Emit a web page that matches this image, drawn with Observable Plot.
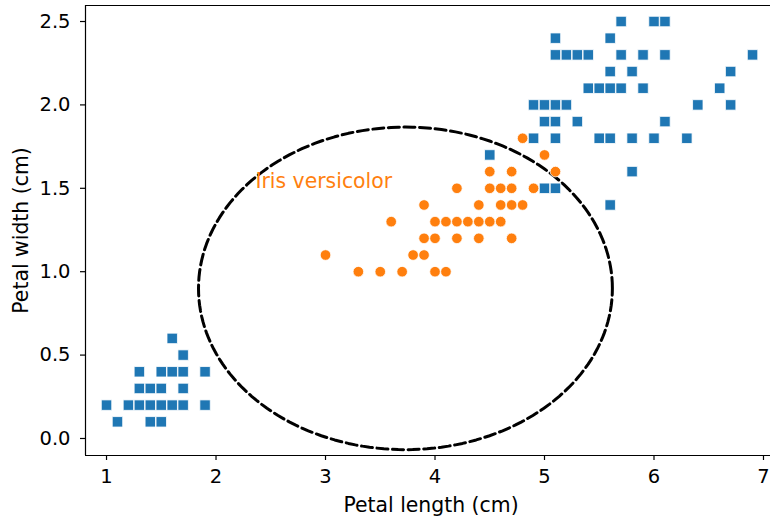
<!DOCTYPE html>
<html>
<head>
<meta charset="utf-8">
<script src="https://cdn.jsdelivr.net/npm/d3@7"></script>
<script src="https://cdn.jsdelivr.net/npm/@observablehq/plot@0.6"></script>
<style>
  html, body { margin: 0; padding: 0; background: white; }
</style>
</head>
<body>
<div id="chart"></div>
<script>
// Other species (setosa + virginica) — blue squares
const otherLength = [
  1.6, 1.7,
  1.3, 1.5, 1.6, 1.7, 1.9,
  1.3, 1.4, 1.5, 1.7,
  1.0, 1.2, 1.3, 1.4, 1.5, 1.6, 1.7, 1.9,
  1.1, 1.4, 1.5,
  5.7, 6.0, 6.1,
  5.1, 5.6,
  5.1, 5.2, 5.3, 5.4, 5.7, 5.9, 6.1, 6.9,
  5.6, 5.8, 6.7,
  5.4, 5.5, 5.6, 5.7, 5.9, 6.6,
  4.9, 5.0, 5.1, 5.2, 6.4, 6.7,
  5.0, 5.1, 5.3, 6.1,
  4.9, 5.1, 5.5, 5.6, 5.8, 6.0, 6.3,
  4.5,
  5.8,
  5.0, 5.1,
  5.6
];
const otherWidth = [
  0.6, 0.5,
  0.4, 0.4, 0.4, 0.4, 0.4,
  0.3, 0.3, 0.3, 0.3,
  0.2, 0.2, 0.2, 0.2, 0.2, 0.2, 0.2, 0.2,
  0.1, 0.1, 0.1,
  2.5, 2.5, 2.5,
  2.4, 2.4,
  2.3, 2.3, 2.3, 2.3, 2.3, 2.3, 2.3, 2.3,
  2.2, 2.2, 2.2,
  2.1, 2.1, 2.1, 2.1, 2.1, 2.1,
  2.0, 2.0, 2.0, 2.0, 2.0, 2.0,
  1.9, 1.9, 1.9, 1.9,
  1.8, 1.8, 1.8, 1.8, 1.8, 1.8, 1.8,
  1.7,
  1.6,
  1.5, 1.5,
  1.4
];
// Iris versicolor — orange circles
const versicolorLength = [
  4.8,
  5.0,
  4.5, 4.7, 5.1,
  4.2, 4.5, 4.6, 4.7, 4.9,
  3.9, 4.4, 4.6, 4.7, 4.8,
  3.6, 4.0, 4.1, 4.2, 4.3, 4.4, 4.5, 4.6,
  3.9, 4.0, 4.2, 4.4, 4.7,
  3.0, 3.8, 3.9,
  3.3, 3.5, 3.7, 4.0, 4.1
];
const versicolorWidth = [
  1.8,
  1.7,
  1.6, 1.6, 1.6,
  1.5, 1.5, 1.5, 1.5, 1.5,
  1.4, 1.4, 1.4, 1.4, 1.4,
  1.3, 1.3, 1.3, 1.3, 1.3, 1.3, 1.3, 1.3,
  1.2, 1.2, 1.2, 1.2, 1.2,
  1.1, 1.1, 1.1,
  1.0, 1.0, 1.0, 1.0, 1.0
];

// Ellipse (center and radii in data units)
const ellipseCenter = [3.73, 0.90];
const ellipseRadii = [1.89, 0.967];

// Annotation
const annotationText = "Iris versicolor";
const annotationX = 2.36;
const annotationY = 1.5;

// Axes
const xTicks = [1, 2, 3, 4, 5, 6, 7];
const yTicks = [0.0, 0.5, 1.0, 1.5, 2.0, 2.5];
const xDomain = [0.808, 7.064];
const yDomain = [-0.102, 2.596];
const xLabel = "Petal length (cm)";
const yLabel = "Petal width (cm)";

const others = otherLength.map((v, i) => ({length: v, width: otherWidth[i]}));
const versicolor = versicolorLength.map((v, i) => ({length: v, width: versicolorWidth[i]}));
const ellipse = d3.range(0, 361, 2).map(a => {
  const t = a * Math.PI / 180;
  return {x: ellipseCenter[0] + ellipseRadii[0] * Math.cos(t), y: ellipseCenter[1] + ellipseRadii[1] * Math.sin(t)};
});

const chart = Plot.plot({
  width: 770,
  height: 520,
  marginLeft: 85,
  marginRight: 0,
  marginTop: 5,
  marginBottom: 65,
  style: {fontFamily: "DejaVu Sans", background: "white", color: "black"},
  x: {domain: xDomain},
  y: {domain: yDomain},
  marks: [
    Plot.axisX({ticks: xTicks, tickFormat: d3.format("d"), tickSize: 5, tickPadding: 9, fontSize: 19.5, label: null, strokeWidth: 1.2}),
    Plot.axisY({ticks: yTicks, tickFormat: d3.format(".1f"), tickSize: 5, tickPadding: 10, fontSize: 19.5, label: null, strokeWidth: 1.2}),
    Plot.ruleX([xDomain[0]], {stroke: "black", strokeWidth: 1.2}),
    Plot.ruleY([yDomain[0]], {stroke: "black", strokeWidth: 1.2}),
    Plot.ruleY([yDomain[1]], {stroke: "black", strokeWidth: 1.2}),
    Plot.line(ellipse, {x: "x", y: "y", stroke: "black", strokeWidth: 3, strokeDasharray: "11 4.6"}),
    Plot.dot(others, {x: "length", y: "width", symbol: "square", r: 5.9, fill: "#1f77b4", stroke: "white", strokeWidth: 0.8}),
    Plot.dot(versicolor, {x: "length", y: "width", symbol: "circle", r: 5.3, fill: "#ff7f0e", stroke: "white", strokeWidth: 0.8}),
    Plot.text([annotationText], {x: () => annotationX, y: () => annotationY, text: d => d, textAnchor: "start", lineAnchor: "bottom", fill: "#ff7f0e", fontSize: 20.4}),
    Plot.text([xLabel], {frameAnchor: "bottom", text: d => d, textAnchor: "middle", dx: 3, dy: 56.7, lineAnchor: "bottom", fontSize: 20.4, fill: "black"}),
    Plot.text([yLabel], {frameAnchor: "left", text: d => d, textAnchor: "middle", rotate: -90, dx: -58, dy: 0, lineAnchor: "bottom", fontSize: 20.4, fill: "black"})
  ]
});
document.getElementById("chart").appendChild(chart);
</script>
</body>
</html>
